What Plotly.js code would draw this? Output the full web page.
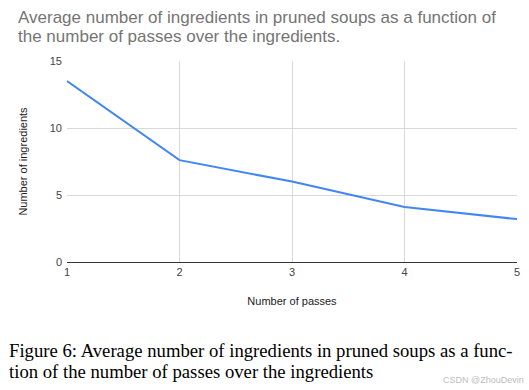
<!DOCTYPE html>
<html>
<head>
<meta charset="utf-8">
<script src="https://cdn.plot.ly/plotly-3.0.1.min.js"></script>
<style>html,body{margin:0;padding:0;background:#fff;}#chart{width:529px;height:390px;}</style>
</head>
<body>
<div id="chart"></div>
<script>
const passes = [1, 2, 3, 4, 5];
const ingredients = [13.5, 7.6, 6.0, 4.1, 3.2];
const yTicks = [0, 5, 10, 15];
const titleLines = ["Average number of ingredients in pruned soups as a function of", "the number of passes over the ingredients."];
const captionLines = ["Figure 6: Average number of ingredients in pruned soups as a func-", "tion of the number of passes over the ingredients"];
const watermark = "CSDN @ZhouDevin";

const annotations = [];
titleLines.forEach((t, i) => annotations.push({
  text: t, xref: 'paper', yref: 'paper', x: -51/450, y: 1 + (44 - i*19.5)/201,
  xanchor: 'left', yanchor: 'middle', showarrow: false, height: 19,
  font: {family: 'Liberation Sans, Arial, sans-serif', size: 17, color: '#757575'}
}));
captionLines.forEach((t, i) => annotations.push({
  text: t, xref: 'paper', yref: 'paper', x: -60/450, y: -(88 + i*21)/201,
  xanchor: 'left', yanchor: 'middle', showarrow: false,
  font: {family: 'Liberation Serif, Times New Roman, serif', size: 18.7, color: '#000'}
}));
annotations.push({
  text: watermark, xref: 'paper', yref: 'paper', x: 1 + 9/450, y: -118/201,
  xanchor: 'right', yanchor: 'middle', showarrow: false,
  font: {family: 'Liberation Sans, Arial, sans-serif', size: 9, color: '#bdbdbd'}
});

Plotly.newPlot('chart', [{
  x: passes, y: ingredients, type: 'scatter', mode: 'lines',
  line: {color: '#4285f4', width: 2}
}], {
  width: 529, height: 390,
  margin: {l: 67, r: 12, t: 61, b: 128},
  paper_bgcolor: '#fff', plot_bgcolor: '#fff',
  showlegend: false,
  font: {family: 'Liberation Sans, Arial, sans-serif', color: '#444'},
  xaxis: {
    range: [1, 5], tickvals: passes, ticks: '', showgrid: true, gridcolor: '#d9d9d9',
    zeroline: false, showline: false, tickfont: {size: 11, color: '#444'},
    ticklabelstandoff: 2,
    title: {text: 'Number of passes', font: {size: 11, color: '#222'}, standoff: 20}
  },
  yaxis: {
    range: [0, 15], tickvals: yTicks, ticks: '', showgrid: true, gridcolor: '#d9d9d9',
    zeroline: true, zerolinecolor: '#333', zerolinewidth: 1, showline: false,
    tickfont: {size: 11, color: '#444'},
    ticklabelstandoff: 4,
    title: {text: 'Number of ingredients', font: {size: 11, color: '#222'}, standoff: 19}
  },
  annotations: annotations
}, {displayModeBar: false, staticPlot: true});
</script>
</body>
</html>
